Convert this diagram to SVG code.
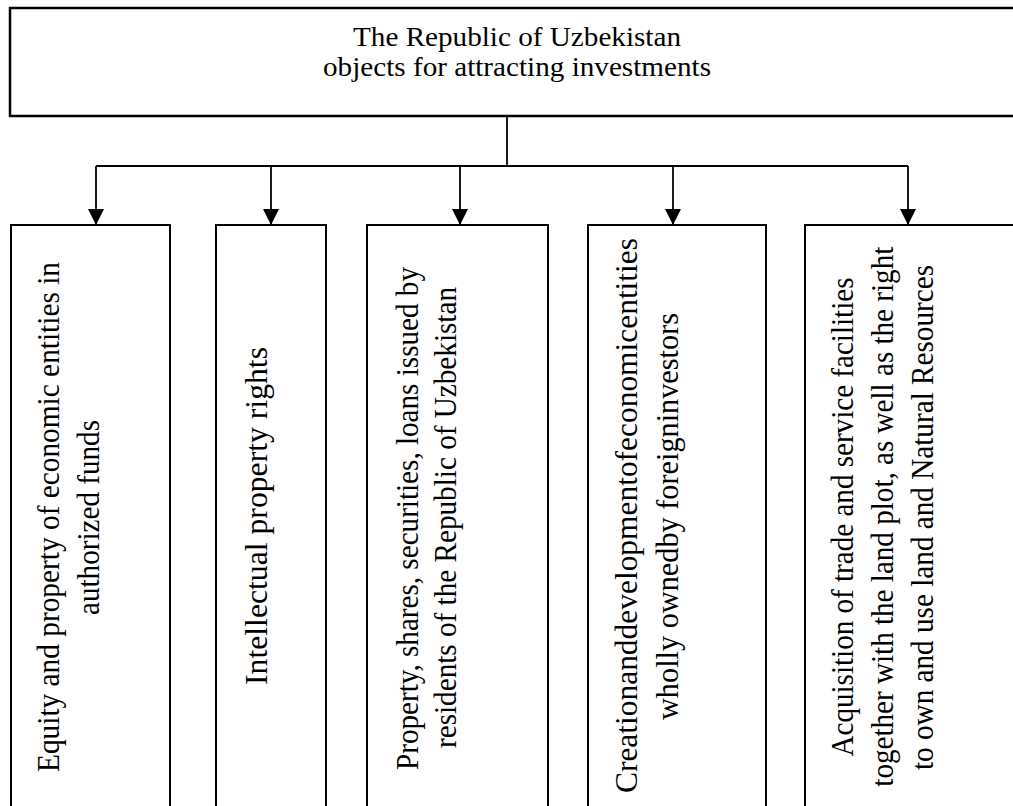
<svg xmlns="http://www.w3.org/2000/svg" width="1013" height="806" viewBox="0 0 1013 806">
  <style>
    .box { fill: #ffffff; stroke: #000000; stroke-width: 2; }
    .top { fill: #ffffff; stroke: #000000; stroke-width: 2.5; }
    .conn { fill: none; stroke: #000000; stroke-width: 1.8; }
    .t { font-family: "Liberation Serif", "Times New Roman", serif; fill: #000000; }
    .title { font-size: 26.5px; text-anchor: middle; }
    .v { font-size: 31px; text-anchor: middle; }
  </style>
  <defs>
    <marker id="arrow" markerUnits="userSpaceOnUse" markerWidth="16" markerHeight="16" refX="16" refY="8" orient="auto" viewBox="0 0 16 16">
      <path d="M0,0 L16,8 L0,16 Z" fill="#000000"/>
    </marker>
  </defs>
  <rect width="1013" height="806" fill="#ffffff"/>

  <g id="root">
    <rect class="top" x="10" y="8" width="1030" height="108"/>
    <text class="t title" x="517" y="46" textLength="328" lengthAdjust="spacingAndGlyphs">The Republic of Uzbekistan</text>
    <text class="t title" x="517" y="76" textLength="388" lengthAdjust="spacingAndGlyphs">objects for attracting investments</text>
  </g>

  <g id="connectors">
    <line class="conn" x1="507" y1="116" x2="507" y2="166"/>
    <line class="conn" x1="96" y1="166" x2="908" y2="166"/>
    <line class="conn" x1="96" y1="166" x2="96" y2="225" marker-end="url(#arrow)"/>
    <line class="conn" x1="271" y1="166" x2="271" y2="225" marker-end="url(#arrow)"/>
    <line class="conn" x1="460" y1="166" x2="460" y2="225" marker-end="url(#arrow)"/>
    <line class="conn" x1="673" y1="166" x2="673" y2="225" marker-end="url(#arrow)"/>
    <line class="conn" x1="908" y1="166" x2="908" y2="225" marker-end="url(#arrow)"/>
  </g>

  <g id="equity">
    <rect class="box" x="11" y="225" width="159" height="600"/>
    <text class="t v" transform="translate(59,517) rotate(-90)" textLength="510" lengthAdjust="spacingAndGlyphs">Equity and property of economic entities in</text>
    <text class="t v" transform="translate(99,517.5) rotate(-90)" textLength="195" lengthAdjust="spacingAndGlyphs">authorized funds</text>
  </g>

  <g id="intellectual">
    <rect class="box" x="216" y="225" width="110" height="600"/>
    <text class="t v" transform="translate(267,516) rotate(-90)" textLength="338" lengthAdjust="spacingAndGlyphs">Intellectual property rights</text>
  </g>

  <g id="property">
    <rect class="box" x="367" y="225" width="181" height="600"/>
    <text class="t v" transform="translate(418,518.5) rotate(-90)" textLength="503" lengthAdjust="spacingAndGlyphs">Property, shares, securities, loans issued by</text>
    <text class="t v" transform="translate(456,517.5) rotate(-90)" textLength="461" lengthAdjust="spacingAndGlyphs">residents of the Republic of Uzbekistan</text>
  </g>

  <g id="creation">
    <rect class="box" x="588" y="225" width="178" height="600"/>
    <text class="t v" transform="translate(637,515.5) rotate(-90)" textLength="555" lengthAdjust="spacingAndGlyphs">Creationanddevelopmentofeconomicentities</text>
    <text class="t v" transform="translate(678,516.5) rotate(-90)" textLength="407" lengthAdjust="spacingAndGlyphs">wholly ownedby foreigninvestors</text>
  </g>

  <g id="acquisition">
    <rect class="box" x="805" y="225" width="230" height="600"/>
    <text class="t v" transform="translate(853,517) rotate(-90)" textLength="479" lengthAdjust="spacingAndGlyphs">Acquisition of trade and service facilities</text>
    <text class="t v" transform="translate(893,516.7) rotate(-90)" textLength="540" lengthAdjust="spacingAndGlyphs">together with the land plot, as well as the right</text>
    <text class="t v" transform="translate(933,517.5) rotate(-90)" textLength="505" lengthAdjust="spacingAndGlyphs">to own and use land and Natural Resources</text>
  </g>
</svg>
